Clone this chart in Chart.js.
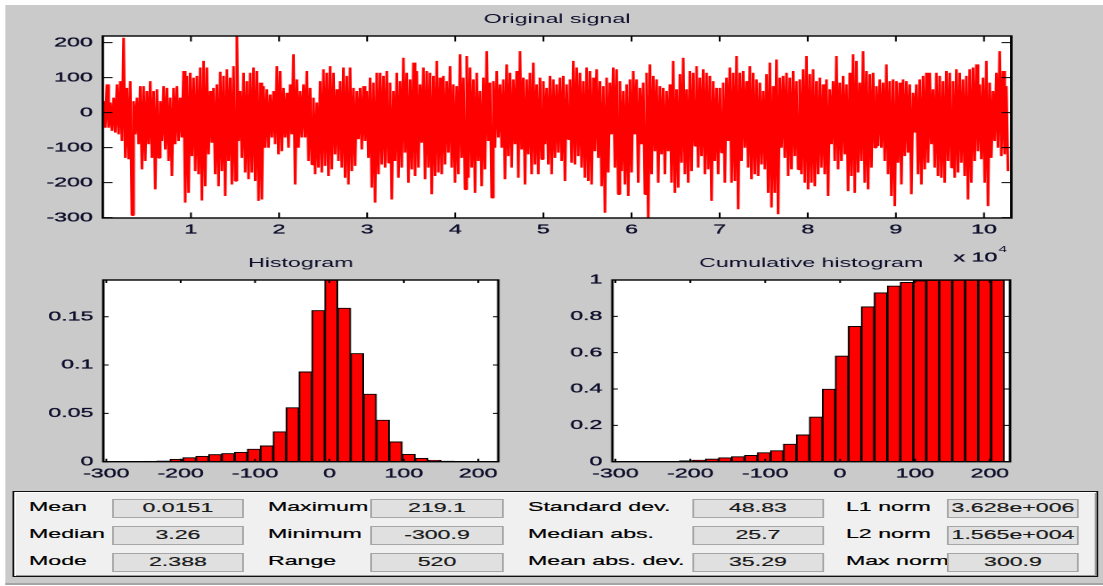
<!DOCTYPE html>
<html>
<head>
<meta charset="utf-8">
<title>Signal statistics</title>
<script src="https://cdn.jsdelivr.net/npm/chart.js@4.4.1/dist/chart.umd.min.js"></script>
<style>
  html, body { margin: 0; padding: 0; background: #ffffff; }
  body { width: 1103px; height: 586px; overflow: hidden; position: relative; }
  /* The figure is laid out on a narrow sheet and stretched horizontally. */
  #figure { position: absolute; left: 0; top: 0; width: 619.7px; height: 586px;
            transform: scaleX(1.78); transform-origin: 0 0; }
  #backdrop { position: absolute; left: 3.37px; top: 5px; width: 616.33px; height: 578px;
              background: #cacaca; border-bottom: 2px solid #a4a4a4; }
  .plot { position: absolute; }
  #statsFrame { position: absolute; left: 7.3px; top: 491px; width: 607.5px; height: 84px;
                background: #f0f0f0; border: 1px solid #101010;
                box-shadow: inset 1px 1px 0 #ffffff, inset -1px -1px 0 #9a9a9a; }
  .statName { position: absolute; height: 19px; line-height: 19px; white-space: nowrap;
              font: 13px "Liberation Sans", Arial, sans-serif; color: #000;
              -webkit-text-stroke: 0.2px #000; }
  .statValue { position: absolute; width: 72.16px; height: 17px; line-height: 17px; text-align: center;
               background: #e0e0e0; border: 1px solid #a6a6a6; white-space: nowrap;
               font: 13px "Liberation Sans", Arial, sans-serif; color: #1a1a1a;
               -webkit-text-stroke: 0.2px #1a1a1a; }
</style>
</head>
<body>
<div id="figure">
  <div id="backdrop"></div>
  <div class="plot" style="left:0;top:0;width:619.7px;height:268px;"><canvas id="signalChart"></canvas></div>
  <div class="plot" style="left:0;top:240px;width:310px;height:250px;"><canvas id="histChart"></canvas></div>
  <div class="plot" style="left:310px;top:240px;width:309.7px;height:250px;"><canvas id="cumChart"></canvas></div>
  <div id="statsFrame"></div>
  <div id="stats"></div>
</div>
<script>
// ---- Original signal: alternating local highs and lows along the record ----
const signalStep = 189;        // samples between plotted points
const signalXMax = 103100;
const signalYMin = -300.9;
const signalYMax = 219.1;
const signal = [
  33,-43, 81,-43, 29,-52, 43,-57, 81,-62, 90,-81, 214,-129, 71,-133, 90,-293, 33,-62,
  43,-90, 76,-162, 76,-138, 62,-90, 90,-129, 62,-219, 67,-129, 33,-81, 76,-105, 71,-138,
  43,-181, 71,-90, 76,-81, 43,-71, 119,-257, 105,-229, 114,-124, 100,-167, 105,-176, 129,-251,
  148,-210, 129,-119, 62,-86, 71,-176, 81,-210, 117,-167, 105,-238, 124,-138, 100,-205, 133,-195,
  219.1,-81, 62,-129, 114,-171, 90,-190, 114,-171, 129,-195, 119,-252, 86,-248, 76,-100, 67,-100,
  52,-71, 62,-90, 133,-119, 119,-110, 71,-71, 57,-100, 81,-62, 167,-205, 95,-100, 62,-71,
  81,-71, 119,-138, 71,-148, 43,-176, 29,-157, 90,-171, 124,-152, 114,-181, 133,-162, 114,-119,
  67,-138, 90,-157, 129,-186, 105,-205, 129,-167, 71,-152, 62,-76, 71,-105, 76,-81, 62,-129,
  100,-214, 86,-257, 114,-176,
  114,-148, 105,-157, 119,-143, 86,-248, 62,-138, 114,-186, 90,-157, 157,-114, 114,-200, 95,-162,
  143,-181, 119,-157, 81,-86, 129,-190, 119,-157, 114,-233, 105,-181, 148,-171, 100,-176, 105,-148,
  90,-114, 133,-157, 81,-200, 76,-176, 167,-129, 100,-219, 162,-186, 129,-157, 95,-229, 114,-138,
  62,-210, 100,-162, 176,-81, 86,-243, 90,-100, 119,-71, 81,-100, 95,-190, 138,-124, 114,-157,
  95,-90, 119,-186, 176,-105, 100,-205, 95,-119, 114,-176, 143,-148, 81,-176, 100,-133, 90,-90,
  71,-148, 105,-176, 95,-129, 81,-114, 100,-138, 105,-195, 81,-76, 95,-143, 148,-148, 129,-124,
  114,-157, 90,-186, 129,-195, 119,-205, 100,-110, 124,-129, 90,-210, 76,-286, 100,-171, 86,-62,
  129,-157, 124,-233, 90,-167, 62,-205, 81,-238, 95,-171, 119,-62, 95,-200, 71,-90, 86,-233,
  114,-300.9, 138,-176, 105,-110, 95,-200, 76,-119, 71,-176, 62,-110, 81,-200, 148,-229, 67,-214,
  110,-143, 157,-176, 67,-200, 119,-167, 114,-95, 133,-157, 100,-124, 124,-176, 114,-162, 105,-252,
  90,-138, 71,-176,
  71,-114, 86,-200, 100,-81, 129,-200, 114,-195, 162,-276, 114,-138, 119,-100, 90,-157, 133,-190,
  114,-176, 95,-181, 86,-148, 62,-162, 110,-229, 143,-271, 76,-229, 152,-290, 100,-100, 105,-129,
  114,-181, 100,-162, 119,-124, 90,-162, 95,-176, 124,-200, 162,-219, 110,-200, 124,-210, 90,-176,
  100,-157, 81,-176, 95,-238, 67,-90, 90,-138, 162,-162, 86,-138, 105,-119, 81,-224, 114,-181,
  167,-229, 148,-171, 86,-138, 176,-200, 119,-219, 110,-157, 114,-100, 76,-95, 95,-100, 86,-138,
  138,-176, 90,-238, 95,-267, 90,-143, 86,-205, 95,-124, 90,-114, 81,-233, 57,-57, 81,-176,
  95,-205, 105,-162, 114,-143, 114,-90, 67,-157, 114,-181, 105,-186, 90,-200, 119,-138, 114,-157,
  90,-186, 124,-171, 114,-143, 95,-181, 105,-248, 124,-200, 129,-138, 138,-110, 81,-133, 100,-200,
  148,-267, 86,-129, 62,-81, 114,-100, 176,-124, 119,-119, 76,-167
];
const signalXTicks = [10000, 20000, 30000, 40000, 50000, 60000, 70000, 80000, 90000, 100000];
const signalYTicks = [-300, -200, -100, 0, 100, 200];

// ---- Histogram (30 bins between the minimum and the maximum) ----
const binCenters = [
  -292.2, -274.9, -257.6, -240.2, -222.9, -205.6, -188.2, -170.9, -153.6, -136.2,
  -118.9, -101.6, -84.2, -66.9, -49.6, -32.2, -14.9, 2.4, 19.8, 37.1,
  54.4, 71.8, 89.1, 106.4, 123.8, 141.1, 158.4, 175.8, 193.1, 210.4
];
const histFreq = [
  0.0002, 0.0002, 0.0003, 0.0005, 0.0008, 0.0026, 0.0043, 0.0057, 0.0075, 0.0085,
  0.0098, 0.013, 0.0164, 0.031, 0.056, 0.093, 0.1565, 0.188, 0.159, 0.112,
  0.070, 0.043, 0.0205, 0.0078, 0.0036, 0.0015, 0.0007, 0.0004, 0, 0.0002
];
const cumFreq = [
  0.0002, 0.0004, 0.0007, 0.0012, 0.002, 0.0045, 0.009, 0.015, 0.022, 0.028,
  0.035, 0.050, 0.061, 0.097, 0.148, 0.246, 0.40, 0.582, 0.745, 0.853,
  0.930, 0.967, 0.987, 0.996, 0.999, 1, 1, 1, 1, 1
];
const binXTicks = [-300, -200, -100, 0, 100, 200];
const binXMin = -304;
const binXMax = 227;
const histYMax = 0.188;
const histYTicks = [0, 0.05, 0.1, 0.15];
const cumYTicks = [0, 0.2, 0.4, 0.6, 0.8, 1];

// ---- Statistics panel ----
const statNames = [
  ['Mean', 'Median', 'Mode'],
  ['Maximum', 'Minimum', 'Range'],
  ['Standard dev.', 'Median abs.', 'Mean abs. dev.'],
  ['L1 norm', 'L2 norm', 'Max norm']
];
const statValues = [
  ['0.0151', '3.26', '2.388'],
  ['219.1', '-300.9', '520'],
  ['48.83', '25.7', '35.29'],
  ['3.628e+006', '1.565e+004', '300.9']
];

// ---------------------------------------------------------------------------
const FONT = '"Liberation Sans", Arial, sans-serif';
const TEXT = '#0c0c2a';
Chart.defaults.font.family = FONT;
Chart.defaults.font.size = 13;
Chart.defaults.color = TEXT;

// white plot area, black box, inward tick marks on all four sides
const boxedAxes = {
  id: 'boxedAxes',
  beforeDraw(chart) {
    const a = chart.chartArea, ctx = chart.ctx;
    ctx.save();
    ctx.fillStyle = '#ffffff';
    ctx.fillRect(a.left, a.top, a.right - a.left, a.bottom - a.top);
    ctx.restore();
  },
  afterDatasetsDraw(chart, args, opts) {
    const a = chart.chartArea, ctx = chart.ctx, len = opts.tickLength;
    const xs = chart.scales.x, ys = chart.scales.y;
    ctx.save();
    ctx.strokeStyle = '#000000';
    ctx.lineWidth = 1;
    ctx.beginPath();
    xs.ticks.forEach(t => {
      const px = xs.getPixelForValue(t.value);
      ctx.moveTo(px, a.bottom); ctx.lineTo(px, a.bottom - len);
      ctx.moveTo(px, a.top); ctx.lineTo(px, a.top + len);
    });
    ys.ticks.forEach(t => {
      const py = ys.getPixelForValue(t.value);
      ctx.moveTo(a.left, py); ctx.lineTo(a.left + len, py);
      ctx.moveTo(a.right, py); ctx.lineTo(a.right - len, py);
    });
    ctx.stroke();
    ctx.lineWidth = 1.4;
    ctx.strokeRect(a.left, a.top, a.right - a.left, a.bottom - a.top);
    ctx.restore();
  }
};

// "x 10^4" multiplier under the right end of the time axis
const exponentLabel = {
  id: 'exponentLabel',
  afterDraw(chart, args, opts) {
    const a = chart.chartArea, ctx = chart.ctx;
    ctx.save();
    ctx.fillStyle = TEXT;
    ctx.strokeStyle = TEXT;
    ctx.lineWidth = 0.3;
    ctx.textAlign = 'right';
    ctx.textBaseline = 'middle';
    const right = a.right - 2.5;
    ctx.font = '8.5px ' + FONT;
    ctx.fillText(opts.power, right, a.bottom + 31.7);
    const w = ctx.measureText(opts.power).width;
    ctx.font = '13px ' + FONT;
    ctx.fillText(opts.base, right - w - 0.6, a.bottom + 40);
    ctx.strokeText(opts.base, right - w - 0.6, a.bottom + 40);
    ctx.restore();
  }
};

function fixedTicks(values) {
  return scale => { scale.ticks = values.map(v => ({ value: v })); };
}

function titleOptions(text, top, bottom) {
  return {
    display: true, text, fullSize: false, align: 'center', color: TEXT,
    font: { size: 13, weight: 'normal', lineHeight: 1 },
    padding: { top, bottom }
  };
}

function axisX(min, max, ticks, label, height, padding) {
  return {
    type: 'linear', min, max, offset: false,
    grid: { display: false, drawTicks: false }, border: { display: false },
    afterBuildTicks: fixedTicks(ticks),
    afterFit: s => { s.height = height; },
    ticks: { autoSkip: false, maxRotation: 0, padding, callback: label,
             textStrokeColor: TEXT, textStrokeWidth: 0.3 }
  };
}

function axisY(min, max, ticks, width) {
  return {
    type: 'linear', min, max,
    grid: { display: false, drawTicks: false }, border: { display: false },
    afterBuildTicks: fixedTicks(ticks),
    afterFit: s => { s.width = width; },
    ticks: { autoSkip: false, padding: 5.6, callback: v => String(v),
             textStrokeColor: TEXT, textStrokeWidth: 0.3 }
  };
}

const common = {
  responsive: true, maintainAspectRatio: false, animation: false, events: [],
  devicePixelRatio: 2
};

// Original signal
new Chart(document.getElementById('signalChart'), {
  type: 'line',
  data: {
    datasets: [{
      data: signal.map((v, i) => ({ x: (i + 0.5) * signalStep, y: v })),
      borderColor: '#ff0000', borderWidth: 1.5, pointRadius: 0, tension: 0,
      borderJoinStyle: 'bevel', fill: false
    }]
  },
  options: Object.assign({}, common, {
    layout: { autoPadding: false, padding: { left: 0, right: 52, top: 0, bottom: 0 } },
    plugins: {
      legend: { display: false }, tooltip: { enabled: false },
      title: titleOptions('Original signal', 13, 10),
      boxedAxes: { tickLength: 5.5 },
      exponentLabel: { base: 'x 10', power: '4' }
    },
    scales: {
      x: axisX(0, signalXMax, signalXTicks, v => String(v / 10000), 50, 4.3),
      y: axisY(signalYMin, signalYMax, signalYTicks, 57.7)
    }
  }),
  plugins: [boxedAxes, exponentLabel]
});

function barChart(id, values, yMax, yTicks, title, yWidth, rightPad) {
  return new Chart(document.getElementById(id), {
    type: 'bar',
    data: {
      datasets: [{
        data: binCenters.map((c, i) => ({ x: c, y: values[i] })),
        backgroundColor: '#ff0000', borderColor: '#000000', borderWidth: 1,
        borderSkipped: false, barPercentage: 1, categoryPercentage: 1
      }]
    },
    options: Object.assign({}, common, {
      layout: { autoPadding: false, padding: { left: 0, right: rightPad, top: 0, bottom: 0 } },
      plugins: {
        legend: { display: false }, tooltip: { enabled: false },
        title: titleOptions(title, 16.8, 10.2),
        boxedAxes: { tickLength: 3 }
      },
      scales: {
        x: axisX(binXMin, binXMax, binXTicks, v => String(v), 28.3, 4.5),
        y: axisY(0, yMax, yTicks, yWidth)
      }
    }),
    plugins: [boxedAxes]
  });
}

barChart('histChart', histFreq, histYMax, histYTicks, 'Histogram', 58.03, 30.06);
barChart('cumChart', cumFreq, 1, cumYTicks, 'Cumulative histogram', 33.99, 52.68);

// statistics fields
const colNameX = [16.29, 150.56, 296.63, 475.28];
const colBoxX = [62.92, 208.43, 388.76, 532.02];
const rowTop = [499, 526, 553];
const stats = document.getElementById('stats');
statNames.forEach((col, c) => {
  col.forEach((name, r) => {
    const n = document.createElement('div');
    n.className = 'statName';
    n.style.left = colNameX[c] + 'px';
    n.style.top = rowTop[r] + 'px';
    n.textContent = name;
    stats.appendChild(n);
    const v = document.createElement('div');
    v.className = 'statValue';
    v.style.left = colBoxX[c] + 'px';
    v.style.top = rowTop[r] + 'px';
    v.textContent = statValues[c][r];
    stats.appendChild(v);
  });
});
</script>
</body>
</html>
